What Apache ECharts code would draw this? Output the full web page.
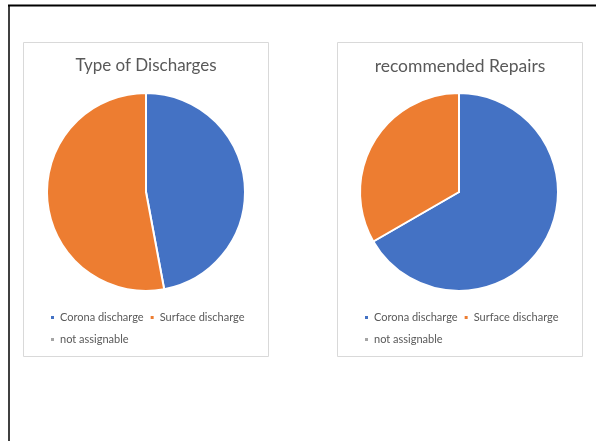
<!DOCTYPE html>
<html>
<head>
<meta charset="utf-8">
<style>
  html, body { margin: 0; padding: 0; background: #fff; }
  #chart { width: 596px; height: 441px; }
</style>
<script src="https://cdn.jsdelivr.net/npm/echarts@6/dist/echarts.min.js"></script>
</head>
<body>
<div id="chart"></div>
<script>
// Data
const categories = ['Corona discharge', 'Surface discharge', 'not assignable'];
const dischargeTypeValues = [8, 9, 0];
const repairValues = [2, 1, 0];
const chartTitles = ['Type of Discharges', 'recommended Repairs'];
const colors = ['#4472C4', '#ED7D31', '#A5A5A5'];

const font = 'Lato, "Open Sans", sans-serif';
const textColor = '#595959';

function toData(vals) {
  return categories.map((c, i) => ({ name: c, value: vals[i] }));
}

const chart = echarts.init(document.getElementById('chart'), null, { renderer: 'canvas' });

const legendCommon = {
  data: categories,
  icon: 'rect',
  itemWidth: 5,
  itemHeight: 5,
  itemGap: 5,
  width: 205,
  orient: 'horizontal',
  selectedMode: false,
  textStyle: { color: textColor, fontSize: 11, fontFamily: font, lineHeight: 17 },
  padding: 0
};

chart.setOption({
  animation: false,
  color: colors,
  graphic: [
    { type: 'rect', shape: { x: 23.5, y: 42.5, width: 245, height: 314 }, style: { fill: '#fff', stroke: '#d9d9d9', lineWidth: 1 }, z: -10 },
    { type: 'rect', shape: { x: 337.5, y: 42.5, width: 245, height: 314 }, style: { fill: '#fff', stroke: '#d9d9d9', lineWidth: 1 }, z: -10 },
    { type: 'line', shape: { x1: 8, y1: 5.5, x2: 596, y2: 5.5 }, style: { stroke: '#000', lineWidth: 2 } },
    { type: 'line', shape: { x1: 9, y1: 5, x2: 9, y2: 441 }, style: { stroke: '#000', lineWidth: 1.5 } }
  ],
  title: [
    { text: chartTitles[0], left: 146, top: 57, textAlign: 'center', padding: 0,
      textStyle: { color: textColor, fontSize: 17, fontWeight: 'normal', fontFamily: font } },
    { text: chartTitles[1], left: 460, top: 57, textAlign: 'center', padding: 0,
      textStyle: { color: textColor, fontSize: 17.5, fontWeight: 'normal', fontFamily: font } }
  ],
  legend: [
    Object.assign({}, legendCommon, { left: 49, top: 309 }),
    Object.assign({}, legendCommon, { left: 363, top: 309 })
  ],
  series: [
    {
      type: 'pie', center: [146, 192], radius: 99, startAngle: 90, clockwise: true,
      label: { show: false }, labelLine: { show: false }, silent: true,
      itemStyle: { borderColor: '#fff', borderWidth: 2 },
      data: toData(dischargeTypeValues)
    },
    {
      type: 'pie', center: [459, 192], radius: 99, startAngle: 90, clockwise: true,
      label: { show: false }, labelLine: { show: false }, silent: true,
      itemStyle: { borderColor: '#fff', borderWidth: 2 },
      data: toData(repairValues)
    }
  ]
});
</script>
</body>
</html>
